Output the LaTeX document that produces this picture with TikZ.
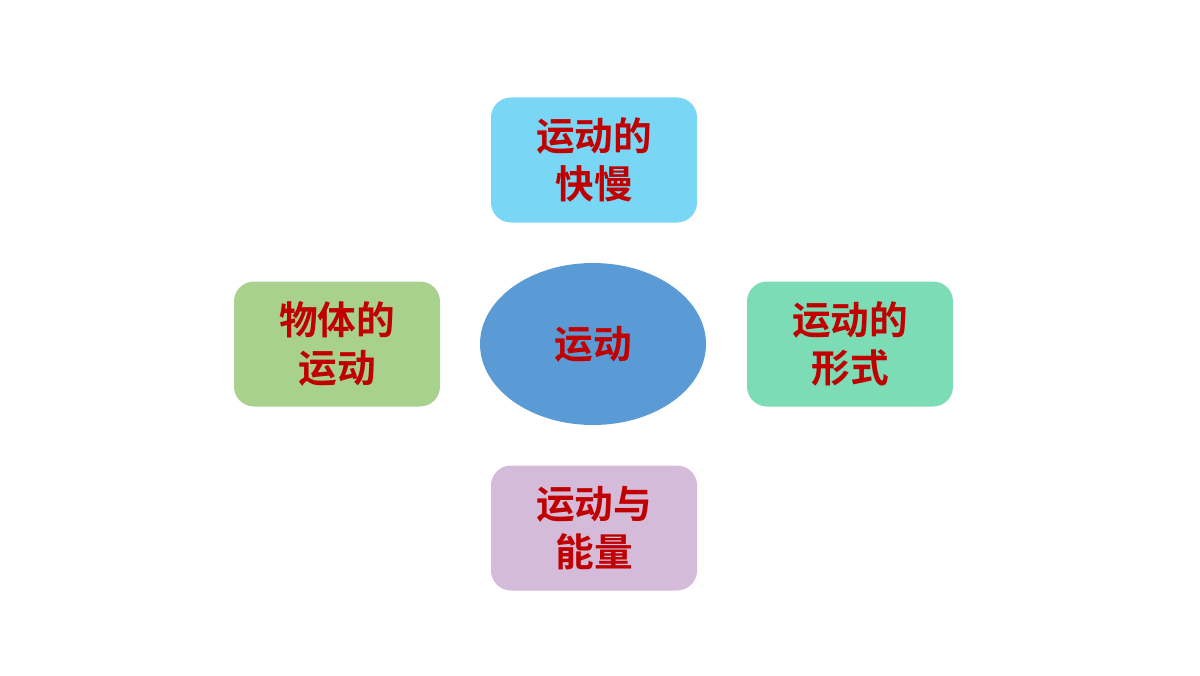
\documentclass[tikz,border=0pt]{standalone}
\usepackage{fontspec}
\newfontfamily\cjk{Noto Sans CJK SC}[BoldFont={Noto Sans CJK SC Bold}]
\usetikzlibrary{shapes,positioning}
\definecolor{topc}{HTML}{7AD6F5}
\definecolor{lefc}{HTML}{A9D18E}
\definecolor{rigc}{HTML}{7BDCB5}
\definecolor{botc}{HTML}{D5BBDA}
\definecolor{midc}{HTML}{5B9BD5}
\definecolor{txtc}{HTML}{C00000}
\begin{document}
\begin{tikzpicture}[box/.style={rectangle, rounded corners=0.4cm, minimum width=4.12cm, minimum height=2.5cm, align=center, txt}, txt/.style={text=txtc, font=\cjk\bfseries\fontsize{22}{27}\selectfont}]

\useasboundingbox (0,0) rectangle (24,13.5);
\node[ellipse, fill=midc, minimum width=4.52cm, minimum height=3.24cm, txt] (yd) at (11.86,6.62) {运动};
\node[box, fill=topc] (kuai) at (11.88,10.3) {运动的\\快慢};
\node[box, fill=lefc] (wuti) at (6.74,6.62) {物体的\\运动};
\node[box, fill=rigc] (xing) at (17.0,6.62) {运动的\\形式};
\node[box, fill=botc] (neng) at (11.88,2.94) {运动与\\能量};
\end{tikzpicture}
\end{document}
